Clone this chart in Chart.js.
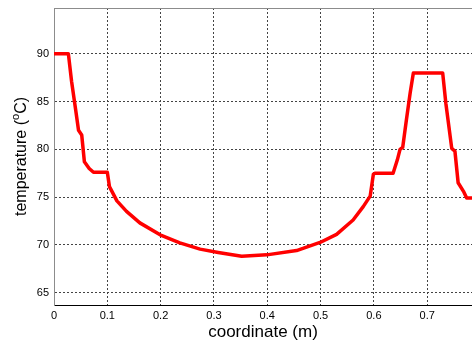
<!DOCTYPE html>
<html>
<head>
<meta charset="utf-8">
<script src="https://cdn.jsdelivr.net/npm/chart.js@4.4.8/dist/chart.umd.min.js"></script>
<style>
  html, body { margin: 0; padding: 0; background: #fff; }
  canvas { display: block; }
</style>
</head>
<body>
<canvas id="tempChart" width="472" height="343"></canvas>
<script>
// temperature profile along the coordinate
const coords = [0, 0.027, 0.033, 0.041, 0.046, 0.052, 0.057, 0.066, 0.074, 0.1,
  0.104, 0.118, 0.136, 0.161, 0.199, 0.236, 0.274, 0.308, 0.352, 0.399,
  0.455, 0.499, 0.53, 0.561, 0.58, 0.593, 0.599, 0.602, 0.636, 0.644,
  0.649, 0.654, 0.661, 0.668, 0.674, 0.729, 0.735, 0.746, 0.752, 0.758,
  0.768, 0.774, 0.784];
const temps = [90, 90, 87.1, 84.0, 82.0, 81.5, 78.7, 78.0, 77.6, 77.6,
  76.1, 74.6, 73.5, 72.3, 71.05, 70.2, 69.55, 69.2, 68.8, 68.95,
  69.4, 70.25, 71.1, 72.6, 74.0, 75.1, 77.4, 77.5, 77.5, 78.9,
  80.0, 80.2, 83.1, 85.9, 88.0, 88.0, 84.8, 80.1, 79.8, 76.5,
  75.6, 74.9, 74.9];

const xTicks = [0, 0.1, 0.2, 0.3, 0.4, 0.5, 0.6, 0.7];
const yTicks = [65, 70, 75, 80, 85, 90];

const FONT = '"Liberation Sans", Arial, Helvetica, sans-serif';

// axis titles and the top edge of the box
const axisDecor = {
  id: "axisDecor",
  afterDraw(chart) {
    const { ctx, chartArea: a } = chart;
    ctx.save();
    ctx.strokeStyle = "#8c8c8c";
    ctx.lineWidth = 1;
    ctx.beginPath();
    ctx.moveTo(a.left, a.top + 0.5);
    ctx.lineTo(a.right, a.top + 0.5);
    ctx.stroke();

    ctx.fillStyle = "#000";
    ctx.font = "17px " + FONT;
    ctx.textAlign = "center";
    ctx.textBaseline = "alphabetic";
    ctx.fillText("coordinate (m)", (a.left + a.right) / 2, 337);

    // y title with superscript degree mark
    const main = "temperature (";
    const tail = "C)";
    const big = "16px " + FONT;
    const small = "11px " + FONT;
    ctx.font = big;
    const w1 = ctx.measureText(main).width;
    const w3 = ctx.measureText(tail).width;
    ctx.font = small;
    const w2 = ctx.measureText("o").width;
    const total = w1 + w2 + w3;
    ctx.translate(26, (a.top + a.bottom) / 2);
    ctx.rotate(-Math.PI / 2);
    ctx.textAlign = "left";
    let x = -total / 2;
    ctx.font = big;
    ctx.fillText(main, x, 0);
    x += w1;
    ctx.font = small;
    ctx.fillText("o", x, -7);
    x += w2;
    ctx.font = big;
    ctx.fillText(tail, x, 0);
    ctx.restore();
  }
};

new Chart(document.getElementById("tempChart"), {
  type: "line",
  data: {
    datasets: [{
      data: coords.map((c, i) => ({ x: c, y: temps[i] })),
      borderColor: "#ff0000",
      borderWidth: 3.5,
      borderJoinStyle: "round",
      borderCapStyle: "round",
      pointRadius: 0,
      tension: 0,
      fill: false
    }]
  },
  options: {
    responsive: false,
    animation: false,
    devicePixelRatio: 1,
    layout: { padding: { top: 8, right: 0, left: 0, bottom: 0 } },
    plugins: {
      legend: { display: false },
      tooltip: { enabled: false }
    },
    scales: {
      x: {
        type: "linear",
        min: 0,
        max: 0.784,
        afterBuildTicks: (scale) => { scale.ticks = xTicks.map(v => ({ value: v })); },
        afterFit: (scale) => {
          scale.height = 38;
          scale.paddingLeft = 0;
          scale.paddingRight = 0;
        },
        ticks: {
          color: "#000",
          font: { family: FONT, size: 11 },
          padding: 4,
          maxRotation: 0,
          callback: (v) => String(v)
        },
        grid: { color: "#444", drawTicks: false },
        border: { color: "#000", width: 1, dash: [2, 2] }
      },
      y: {
        min: 63.7,
        max: 94.8,
        afterBuildTicks: (scale) => { scale.ticks = yTicks.map(v => ({ value: v })); },
        afterFit: (scale) => {
          scale.width = 54;
          scale.paddingTop = 0;
          scale.paddingBottom = 0;
        },
        ticks: {
          color: "#000",
          font: { family: FONT, size: 11 },
          padding: 5,
          callback: (v) => String(v)
        },
        grid: { color: "#444", drawTicks: false },
        border: { color: "#8c8c8c", width: 1, dash: [2, 2] }
      }
    }
  },
  plugins: [axisDecor]
});
</script>
</body>
</html>
